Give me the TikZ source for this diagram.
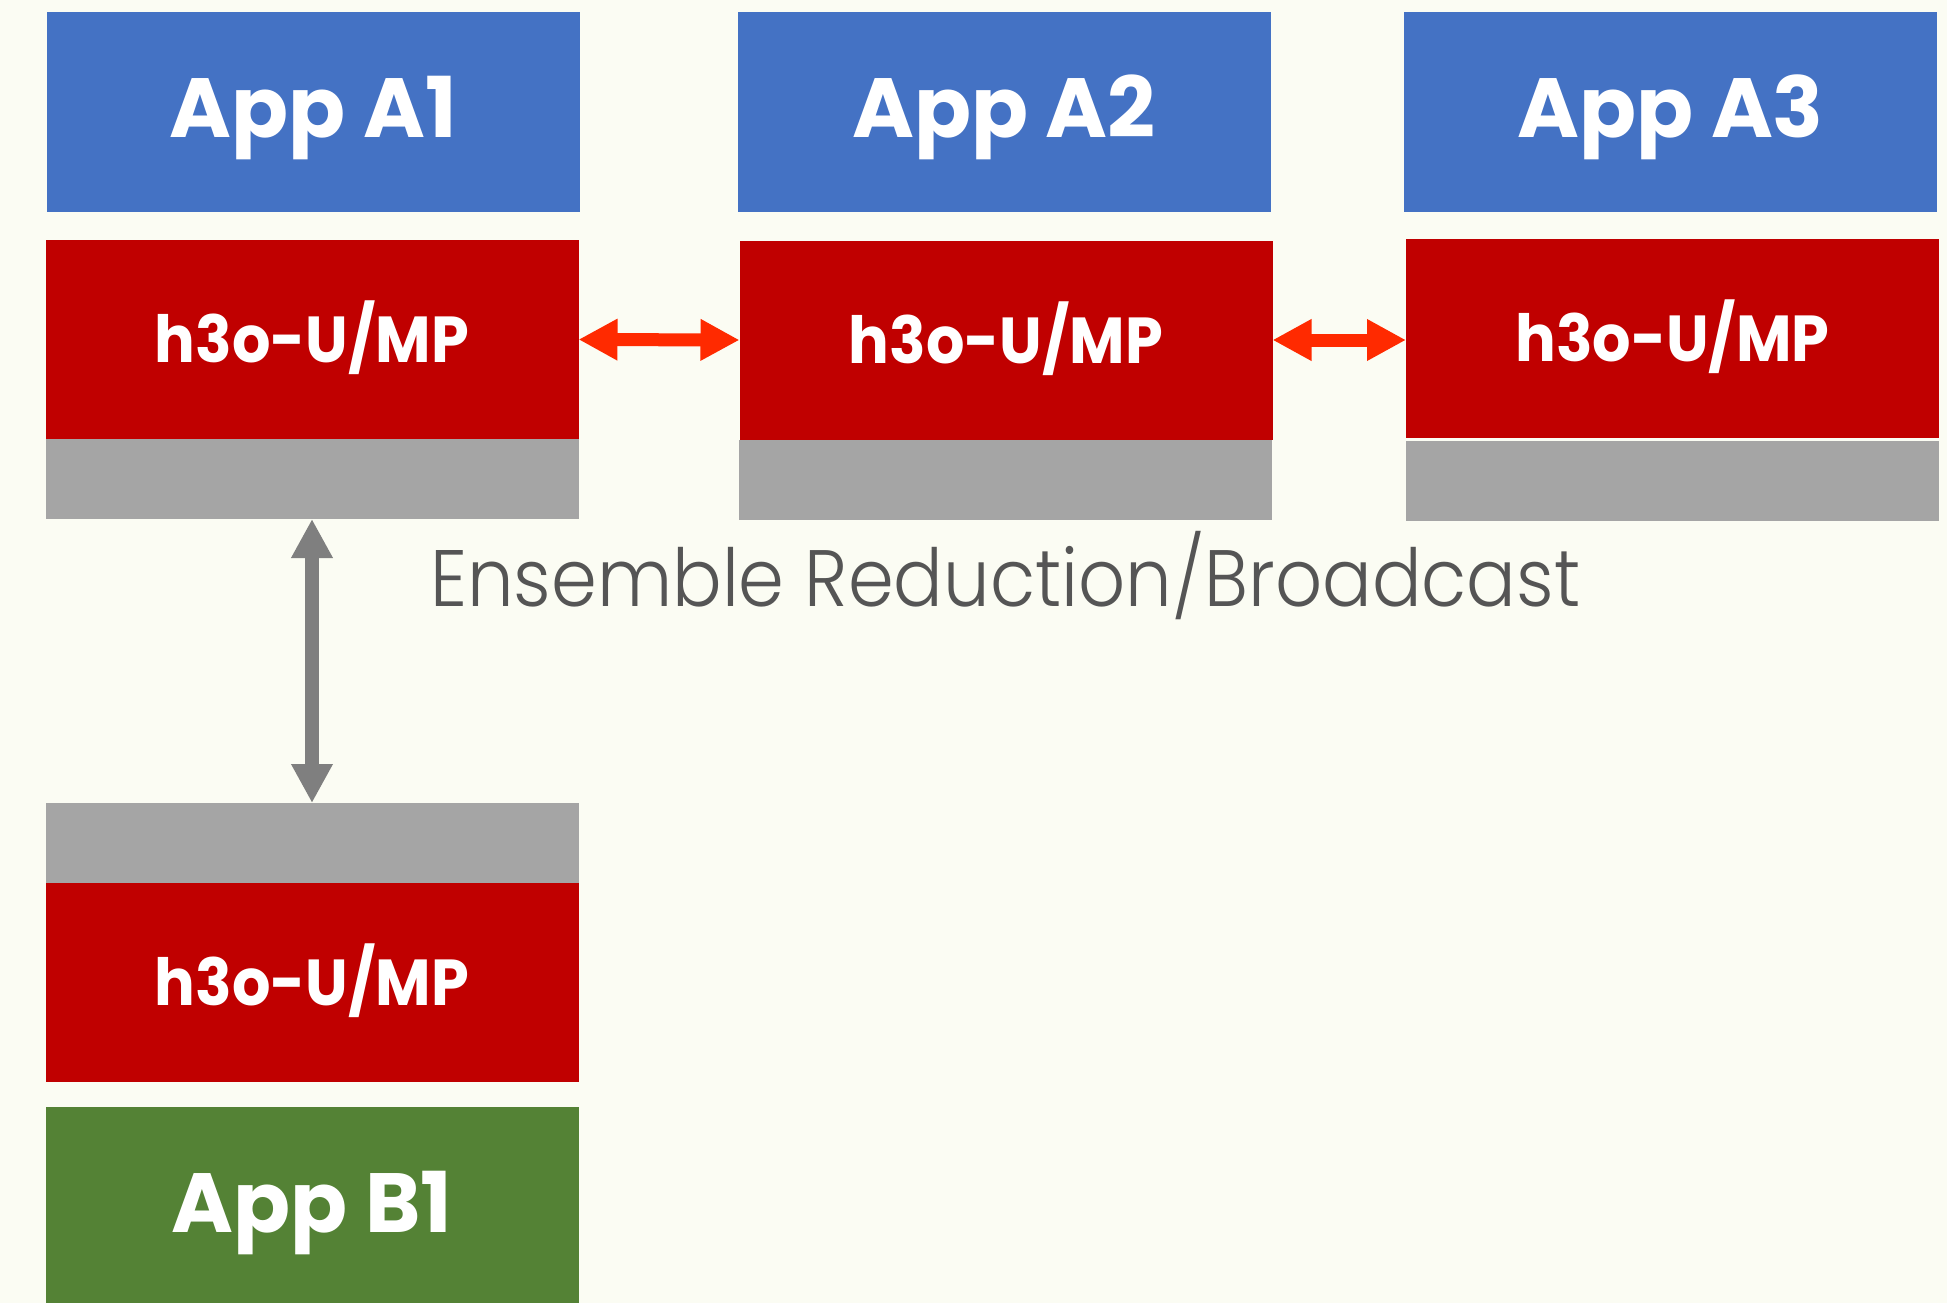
\documentclass[tikz,border=0pt]{standalone}
\usepackage{fontspec}
\setmainfont{Poppins}
\newfontfamily\lightfont{Poppins Light}[FakeStretch=0.92]
\newfontfamily\boldnarrow{Poppins Bold}[FakeStretch=0.93]
\usetikzlibrary{arrows.meta}
\definecolor{bgc}{HTML}{FBFCF3}
\definecolor{appblue}{HTML}{4472C4}
\definecolor{mpired}{HTML}{C00000}
\definecolor{bargray}{HTML}{A5A5A5}
\definecolor{appgreen}{HTML}{548235}
\definecolor{arrred}{HTML}{FF2A00}
\definecolor{arrgray}{HTML}{7F7F7F}
\definecolor{txtgray}{HTML}{555555}
\tikzset{
  box/.style={rectangle, inner sep=0pt, outer sep=0pt, minimum width=533pt, text=white, text height=51pt, text depth=0pt, font=\bfseries\fontsize{84}{90}\selectfont},
  appbox/.style={box, fill=appblue, minimum height=200pt},
  greenbox/.style={box, fill=appgreen, minimum height=200pt},
  mpibox/.style={box, fill=mpired, minimum height=199pt, text height=46pt, font=\boldnarrow\fontsize{65}{76}\selectfont},
  graybar/.style={box, fill=bargray, minimum height=80pt, text height=0pt},
  redarrow/.style={draw=arrred, line width=13pt, {Triangle[length=39pt,width=39pt]}-{Triangle[length=39pt,width=39pt]}},
  grayarrow/.style={draw=arrgray, line width=14pt, {Triangle[length=39pt,width=39pt]}-{Triangle[length=39pt,width=39pt]}},
}
\begin{document}
\begin{tikzpicture}[x=1pt,y=-1pt]
\fill[bgc] (0,0) rectangle (1947,1303);
\useasboundingbox (0,0) rectangle (1947,1303);
% top row apps
\node[appbox] (a1) at (313.5,112) {App A1};
\node[appbox] (a2) at (1004,112) {App A2};
\node[appbox] (a3) at (1670.5,112) {App A3};
% MPI layers
\node[mpibox] (h1) at (312,339.5) {h3o-U/MP};
\node[mpibox] (h2) at (1006,340) {h3o-U/MP};
\node[mpibox] (h3) at (1672.5,338.5) {h3o-U/MP};
% gray bars
\node[graybar, anchor=north] (g1) at (h1.south) {};
\node[graybar, anchor=north] (g2) at (1005,440) {};
\node[graybar, anchor=north] (g3) at (1672.5,441) {};
% bottom stack
\node[graybar, anchor=north] (gb) at (312,803) {};
\node[mpibox, anchor=north] (hb) at (gb.south) {h3o-U/MP};
\node[greenbox, anchor=north] (b1) at (312,1107) {App B1};
% label
\node[anchor=base west, inner sep=0pt, text=txtgray, font=\lightfont\fontsize{80}{90}\selectfont] (lbl) at (430,606.5) {Ensemble Reduction/Broadcast};
% connectors
\draw[redarrow] (h1.east) -- (h2.west);
\draw[redarrow] (h2.east) -- (h2.east -| h3.west);
\draw[grayarrow] (g1.south) -- (gb.north);
\end{tikzpicture}
\end{document}
